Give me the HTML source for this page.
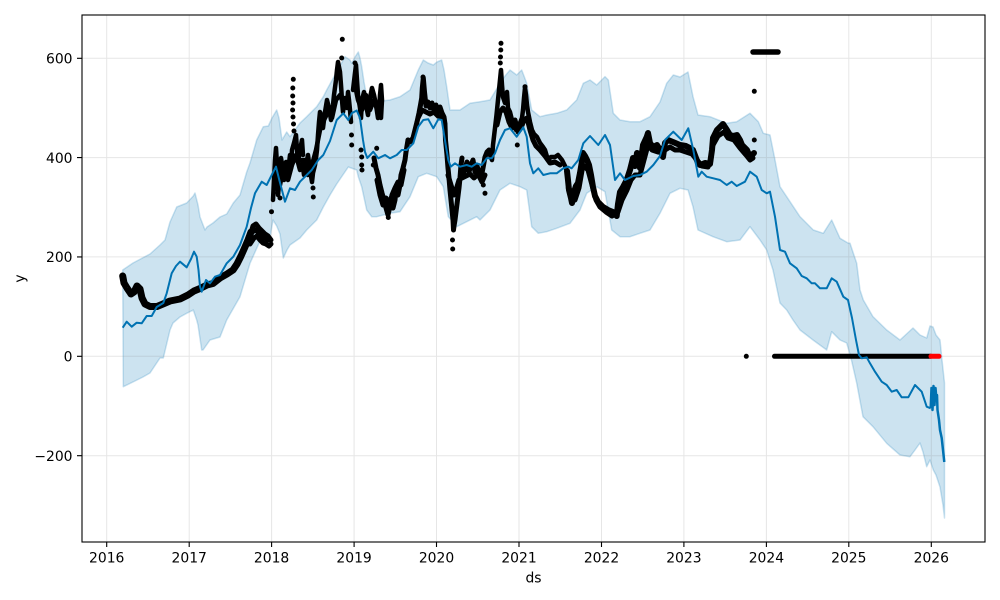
<!DOCTYPE html>
<html>
<head>
<meta charset="utf-8">
<style>
html,body{margin:0;padding:0;background:#fff;}
svg{display:block;}
text{font-family:"DejaVu Sans","Liberation Sans",sans-serif;font-size:13.9px;fill:#000;}
</style>
</head>
<body>
<svg width="1000" height="600" viewBox="0 0 1000 600" xmlns="http://www.w3.org/2000/svg">
<rect width="1000" height="600" fill="#fff"/>
<defs><clipPath id="ax"><rect x="82" y="15" width="903" height="527"/></clipPath></defs>
<g clip-path="url(#ax)">
<polygon fill="#0072B2" fill-opacity="0.2" stroke="#0072B2" stroke-opacity="0.2" stroke-width="1.5" stroke-linejoin="round" points="122.7,270 133,263 150,254 160,245 165,240 170,222 176.7,207 186.7,203 193.3,196 195,193 198,205 200,217 205,230 207,227 213,223 220,217 226.7,214 233.3,203 240,195 246.7,172 250,163 256.7,140 263.3,126.7 268.3,126 272,118 276.7,110 279,118 282,140 286.7,132 290,136.7 300,123 306.7,116.7 316.7,106.7 323.3,96.7 326.7,90 333.3,78 340,66 345,56.7 350,60 351.7,63.3 355,57 358.3,52 360,58 361.7,66.7 364,82 366.7,96.7 376.7,101.7 390,100 400,96.7 410,90 418.3,70 423.3,60 428,63 433.3,65 437,62 441.7,60 444,70 446.7,86.7 450,110 460,110 470,103.3 480,101.7 490,100 500,83.3 505,76 510,70 516.7,75 521.7,70 524,76 526.7,83.3 531.7,110 540,116.7 546.7,115 556.7,113.3 566.7,110 576.7,100 583.3,83.3 590,80 596.7,85 605,76.7 608.3,80 613.3,113.3 620,120 630,121.7 640,121.7 650,116.7 660,102 666.7,83.3 673.3,75 680,77 688,72 693,96.7 698,115 710,116.7 726.7,123.3 736.7,121.7 750,113.3 758.3,121.7 763.3,133.3 770,135 775,160 780,186.7 786.7,196.7 800,216.7 813.3,230 823.3,233.3 831.7,220 840,238.3 848,243 850,243.3 856.7,263.3 860,290 863.3,300 873,316.7 886.7,330 900,340 913,328 920,335 926.7,338 930,326 933,327 936,335 940,340 942,360 944.5,383 944.5,518 943,505 940,487 936,475 933.3,470 930,460 926.7,466.7 923,452 920,443 915,450 910,456.7 900,455 886.7,443.3 873,426.7 863,416.7 856.7,383 851,358 846.7,343 840,340 831.7,331.7 826.7,350 813,340 800,330 793,320 786.7,310 780,303 773,270 766.7,250 760,240 750,226.7 740,240 726.7,241.7 713,236.7 698,230 693,206.7 688,190 680,188.3 670,193.3 660,213.3 650,230 640,233.3 630,236.7 620,236.7 611.7,230 605,191.7 596.7,186.7 586.7,193.3 580,210 570,223.3 556.7,228.3 546.7,231.7 538.3,233.3 531.7,226.7 526.7,190 520,186.7 510,183.3 500,190 490,210 480,220 476.7,216.7 466.7,221.7 456.7,226.7 448.3,216.7 443.3,186.7 436.7,176.7 426.7,173.3 418.3,176.7 410,196.7 400,211.7 390,213.3 376.7,216.7 371.7,216.7 366.7,210 361.7,186.7 358.3,176.7 356.7,170 348.3,167 336.7,184 330,195 323.3,207 316.7,220 306.7,230 300,238 290,245 287,250 283.3,258 280,234 276.7,226 273,220 270,237 260,241 250,263.3 240,296.7 226.7,320 220,337 210,340 203,350 201.7,350 198,325 196.7,320 193.3,310 186.7,313.3 180,317 173,323 170,330 163.3,358 160,358 150,373 143,377 135,381 123.3,386.7"/>
<path fill="none" stroke="#808080" stroke-opacity="0.2" stroke-width="1" d="M106.7 15V542M189.2 15V542M271.6 15V542M354.1 15V542M436.5 15V542M519 15V542M601.5 15V542M683.9 15V542M766.4 15V542M848.8 15V542M931.3 15V542M82 58.3H985M82 157.6H985M82 256.9H985M82 356.3H985M82 455.7H985"/>
<g fill="none" stroke="#000" stroke-linecap="round" stroke-linejoin="round">
<polyline stroke-width="7" points="122.7,276 124,283 127,288 131,294 134,292 137,286 140,289 142,298 145,304 150,306.5 157,306.5 163,304 170,301 180,299 188,295 194,291 200,288.5 207,285 213,283.5 220,278 227,274 233,270 237,264 241,256 245,247 248,240 251,232"/>
<polyline stroke-width="5" points="250,236 253,226 256,224 259,228 262,231 265,234 268,236 271,240"/>
<polyline stroke-width="5" points="246,243 250,244 254,238 257,236 260,240 263,243 266,244 269,246 271,244"/>
<polyline stroke-width="5" points="252,232 256,230 260,235 264,238 268,240"/>
<polyline stroke-width="4.5" points="273,200 274,180 275,160 276,148 277,165 278,185 278,195 280,175 281,158 283,170 284,180 286,162 288,172 290,155 291,168 292,150 294,143 296,135 297,150 298,162 300,150 302,140 303,155"/>
<polyline stroke-width="4.5" points="280,185 284,165 288,180 292,165 296,155 300,170 304,160 308,175 312,165 316,150 320,130 324,120 328,112 332,118 336,100 340,95 344,105 348,100"/>
<polyline stroke-width="4.5" points="302,160 304,175 306,165 308,155 310,170 312,182 313,173 315,165 316,158 317,150 318,135 319,122 320,112 322,118 323,128 325,112 327,100 329,108 331,120 333,105 334,95 336,80 337,70 338,62 340,72 341,85 342,100 343,112 345,98 347,108 348,92 349,100 350,110 351,122"/>
<polyline stroke-width="4.5" points="353,90 355,73 356,65 357,80 358,95 360,108 361,118 362,100 364,92 366,105 368,115 370,98 372,88 374,95 376,105 378,118 379,110 380,95 381,85 382,100 381,118"/>
<polyline stroke-width="4.5" points="355,85 358,100 362,110 366,95 370,110 374,100 378,112 380,105"/>
<polyline stroke-width="5" points="374,158 376,168 378,175 380,185 382,193 384,200 386,208 388,215 390,206 391,198 393,208 395,200 396,190 398,195 400,185 401,175 403,168 405,160 406,152 408,140"/>
<polyline stroke-width="5" points="377,180 380,195 383,205 386,198 389,210 392,195 395,188 398,182 401,185 404,170"/>
<polyline stroke-width="5" points="408,140 410,142 413,138 415,130 417,122 419,113 420.5,105 421.7,98 422.3,88 423.3,78 424.5,92 426,106 428,102 430,108 432,103 434,110 436,105 438,112 440,107 442,113 444,117 445,124"/>
<polyline stroke-width="5" points="418,118 422,110 426,112 430,114 434,112 438,116 442,118"/>
<polyline stroke-width="5" points="445,125 445.5,140 447,155 448,168 449,178 450,190 451,200 452,210 453,220 453.5,230 454,226 455,220 456,212 457,204 458,196 459,188 460,178 461,165 462,158"/>
<polyline stroke-width="5" points="448,175 451,185 454,195 456,190 459,180"/>
<polyline stroke-width="5" points="461,165 463,175 465,168 467,162 469,172 471,165 473,160 475,172 477,166 479,172 481,178 483,168 485,157 487,152 489,150 491,155"/>
<polyline stroke-width="5" points="462,178 466,176 470,174 474,178 478,174 482,182 485,175"/>
<polyline stroke-width="4.5" points="490,155 492,160 493,145 495,128 496.5,115 498,100 499,90 500,80 501,70 502,85 503,97 505,103 507,92 508,108 510,112 512,120 514,124 516,130 518,126 520,123 522,118 523,110 524,98 525,88 526,95 527,105 528,112 530,122 532,130 534,134 537,137 540,143 543,147 545,150 548,160 551,157 555,157 558,155 562,160 565,166 567,171"/>
<polyline stroke-width="5" points="497,125 500,112 503,108 506,112 509,122 512,128 515,120 518,132 521,128 524,120 527,118 530,130 533,140 536,146 540,150 545,156 550,163 555,162 560,165"/>
<polyline stroke-width="6" points="567,171 568,180 569,190 571,198 572,203 574,192 576,186 578,183 580,173 581.7,163 583,153 585,156 587,160 589,165 591,175 593,187 595,196 598,202 603,207 608,210 613,212 616.7,216 618,204 620,192 623,187 626.7,180 630,170 633,158 635,166 637,153 640,168 643,145 646.7,137 648,133 650,143 653,147 657,145 660,150 663,157 665,143 668,140 673,142 680,145 686,146 690,148 693,150 696,158 698,163 700,165 705,163 710,164 712,150 713,138 717,130 720,127 723,124 727,130 730,135 733,136 737,135 740,140 742,145 745,148 747,150 750,157 752,155 754,153"/>
<polyline stroke-width="5" points="570,190 575,200 579,188 583,165 588,170 592,185 596,200 600,207 606,212 612,216 618,212 622,200 627,190 631,180 635,175 640,175 644,160 648,145 652,150 658,152"/>
<polyline stroke-width="5" points="660,148 665,150 670,147 675,150 680,150 686,152 692,154 697,160 702,166 708,167 711,160"/>
<polyline stroke-width="5" points="713,145 718,136 724,132 728,138 734,140 740,148 746,155 750,160 753,158"/>
<path stroke-width="5.5" d="M753 52H778"/>
<path stroke-width="5" d="M774.5 356.3H930.5"/>
<path stroke-width="5" d="M271.5 211.7h0M278 193h0M280 198h0M293.3 79.3h0M292.8 88h0M292.7 96h0M293 103h0M292.6 110h0M293 117h0M293.5 124h0M294 131h0M313 188h0M313.3 197h0M342.3 39.3h0M341.7 58h0M351.5 135h0M351.7 145h0M361 150h0M361.7 157h0M361.7 165h0M362 170h0M376.7 148.3h0M355 63h0M388.3 217.5h0M373.3 165h0M423 77h0M452.5 240h0M452.7 249h0M485 193.3h0M483.3 185h0M501 43.3h0M500.8 50h0M500.5 57h0M500.3 63h0M517.3 145h0M525 86.7h0M568.3 188h0M754.3 91.3h0M754.3 140h0M746.3 356.3h0"/>
</g>
<path fill="none" stroke="#ff0000" stroke-width="5" stroke-linecap="round" d="M931 356.3H939"/>
<polyline fill="none" stroke="#0072B2" stroke-width="2" stroke-linejoin="round" points="122.7,327.7 126.7,321.7 131.7,326.7 136.7,322.7 141.7,323.3 146.7,316 151.7,316 156.7,307 160,305 163.3,303 166.7,293.3 171.7,273.3 176,266 180,261.7 186.7,267.3 191,259 194,251.7 196.7,256.7 198.5,270 200,286.7 201.7,291.7 206,280 210,283.3 215,276.7 220,275 226.7,263.3 233.3,256.7 240,245 246.7,226.7 251,208 255,193.3 261.7,181.7 266.7,185 271.7,175 276,166.7 279.3,180 285,201.7 290,188.3 295,190 300,181.7 306.7,175 311.7,170 318.3,160 323.3,155 330,141 336.7,120 343.3,113.3 348.3,120 351.7,113.3 356.7,110.5 360,118 363,140 365,152 367.3,158 373.3,151.7 378.3,158.3 385,155 390,158.3 396.7,155 401.7,150 406.7,150 413.3,143.3 418.3,126.7 423.3,120 428.3,119.3 433.3,128.3 438.3,119.3 441.7,120 446,146.7 448.3,160 450.7,166.7 455,163.3 460,166.7 466.7,165 471.7,166.7 476.7,163.3 481.7,165 486.7,158.3 491.7,158.3 495,153.3 500,140 505,130 510,128.3 516.7,136.7 523.3,127.3 526.7,136.7 530,163.3 533.3,173.3 538.3,168.3 543.3,175 550,173.3 556.7,173.3 563.3,168.3 568.3,166.7 571.7,168.3 578.3,160 583.3,143.3 590,136 598.3,145 605,135 610,145 615,180 620,173.3 625,180 633.3,176 640,175 646.7,171.7 653.3,165 660,156 665,140 673.3,131.7 681.7,140 688.3,128.3 693.3,150 698.3,176.7 701.7,171.7 706.7,176.7 713.3,178.3 720,180 726.7,185 731.7,181.7 736.7,186 745,181.7 750,171.7 756.7,176.7 761.7,190 766.7,193.3 770,191.7 775,216.7 780,250 785,251.7 790,263.3 796.7,268.3 801.7,276 806.7,278.3 811.7,283.3 815,283.3 820,288.3 826.7,288.3 831.7,278.3 836.7,281.7 843.3,296.7 848,300 852,318 856,340 859,355 861.7,358.3 866.7,357.3 870,363.3 875,371.7 881.7,381.7 886.7,385 891.7,391.7 896.7,390 901.7,397.3 908.3,397.3 915,385 921.7,391.7 926.7,406.7 930.7,408.3"/>
<polyline fill="none" stroke="#0072B2" stroke-width="2.5" stroke-linejoin="round" points="930.7,408 931.5,388 932.5,410 933.5,386 934.5,405 935.5,388 936.5,400 937,395 937.5,410 939,420 940,430 941.7,438 943,450 944.3,462"/>
</g>
<rect x="82" y="15" width="903" height="527" fill="none" stroke="#000" stroke-width="1.1"/>
<path fill="none" stroke="#000" stroke-width="1.1" d="M106.7 542v5M189.2 542v5M271.6 542v5M354.1 542v5M436.5 542v5M519 542v5M601.5 542v5M683.9 542v5M766.4 542v5M848.8 542v5M931.3 542v5M77 58.3h5M77 157.6h5M77 256.9h5M77 356.3h5M77 455.7h5"/>
<g text-anchor="middle">
<text x="106.7" y="562.5">2016</text>
<text x="189.2" y="562.5">2017</text>
<text x="271.6" y="562.5">2018</text>
<text x="354.1" y="562.5">2019</text>
<text x="436.5" y="562.5">2020</text>
<text x="519" y="562.5">2021</text>
<text x="601.5" y="562.5">2022</text>
<text x="683.9" y="562.5">2023</text>
<text x="766.4" y="562.5">2024</text>
<text x="848.8" y="562.5">2025</text>
<text x="931.3" y="562.5">2026</text>
<text x="533.5" y="582.3">ds</text>
</g>
<g text-anchor="end">
<text x="72.5" y="63.6">600</text>
<text x="72.5" y="162.9">400</text>
<text x="72.5" y="262.2">200</text>
<text x="72.5" y="361.6">0</text>
<text x="72.5" y="461">−200</text>
</g>
<text transform="translate(24.5,278.5) rotate(-90)" text-anchor="middle">y</text>
</svg>
</body>
</html>
